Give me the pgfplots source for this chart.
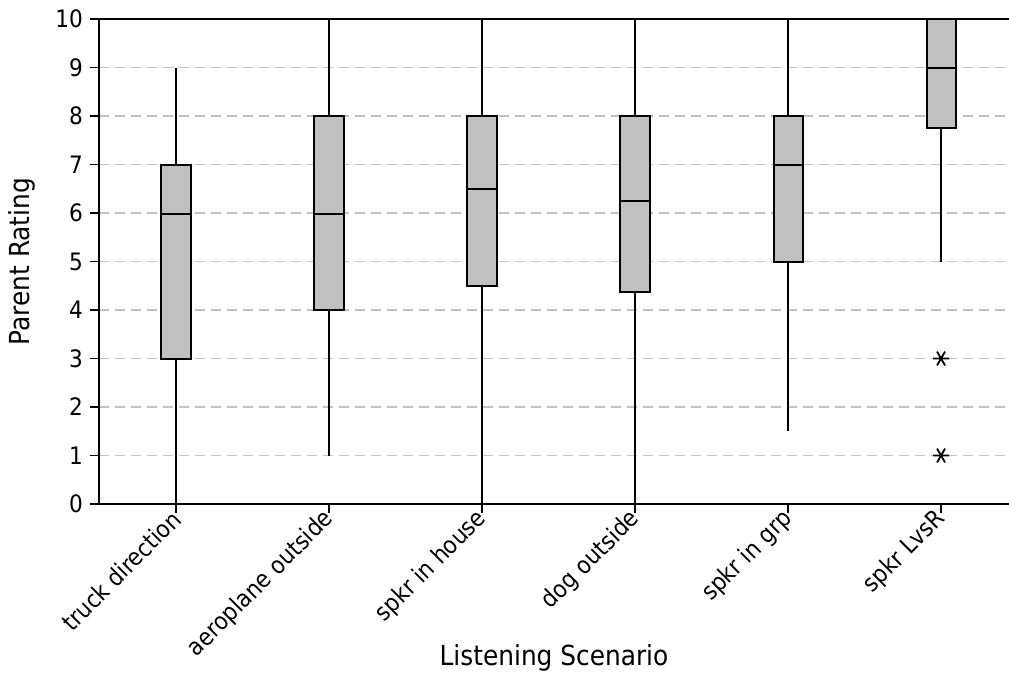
\documentclass[border=0pt]{standalone}
\usepackage{fontspec}
\setmainfont{DejaVu Sans Condensed}
\usepackage{pgfplots}
\usepgfplotslibrary{statistics}
\pgfplotsset{compat=1.18}
\definecolor{boxgray}{RGB}{192,192,192}
\definecolor{gridgray}{RGB}{195,195,195}
\begin{document}
\begin{tikzpicture}
\begin{axis}[
  scale only axis, width=455pt, height=242.5pt,
  xmin=-0.503, xmax=5.444, ymin=0, ymax=10,
  axis x line=box, axis y line=left,
  y axis line style={-},
  axis line style={line width=1pt},
  xtick={0,1,2,3,4,5},
  xticklabels={truck direction, aeroplane outside, spkr in house, dog outside, spkr in grp, spkr LvsR},
  xticklabel style={rotate=45, anchor=east, xshift=3pt, yshift=-1pt},
  ytick={0,1,...,10},
  xtick pos=bottom, ytick pos=left,
  tick align=outside, major tick length=4.5pt,
  tick style={black, line width=0.8pt},
  ymajorgrids, grid style={gridgray, dash pattern=on 5pt off 3pt, line width=0.8pt},
  /pgf/number format/assume math mode=true,
  tick label style={font=\fontsize{12}{14}\selectfont},
  ylabel={Parent Rating}, xlabel={Listening Scenario},
  every axis y label/.style={at={(axis description cs:0,0.5)}, xshift=-38.5pt, rotate=90, anchor=center, font=\fontsize{13.8}{16}\selectfont},
  every axis x label/.style={at={(axis description cs:0.5,0)}, yshift=-77pt, anchor=center, font=\fontsize{13.8}{16}\selectfont},
  boxplot/draw direction=y,
  boxplot/box extend=0.19,
  boxplot/whisker extend=0,
  boxplot/every box/.style={line width=1pt},
  boxplot/every median/.style={line width=1pt},
  boxplot/every whisker/.style={line width=0.7pt},
]
\addplot[boxplot prepared={draw position=0, lower whisker=0, lower quartile=3, median=5.97, upper quartile=7, upper whisker=9}, draw=black, fill=boxgray] coordinates {};
\addplot[boxplot prepared={draw position=1, lower whisker=1, lower quartile=4, median=5.97, upper quartile=8, upper whisker=10}, draw=black, fill=boxgray] coordinates {};
\addplot[boxplot prepared={draw position=2, lower whisker=0, lower quartile=4.5, median=6.5, upper quartile=8, upper whisker=10}, draw=black, fill=boxgray] coordinates {};
\addplot[boxplot prepared={draw position=3, lower whisker=0, lower quartile=4.375, median=6.25, upper quartile=8, upper whisker=10}, draw=black, fill=boxgray] coordinates {};
\addplot[boxplot prepared={draw position=4, lower whisker=1.5, lower quartile=5, median=7, upper quartile=8, upper whisker=10}, draw=black, fill=boxgray] coordinates {};
\addplot[boxplot prepared={draw position=5, lower whisker=5, lower quartile=7.75, median=9, upper quartile=10, upper whisker=10}, draw=black, fill=boxgray, mark=asterisk, mark size=4pt, mark options={black, line width=0.9pt, fill=none, rotate=90}] table[row sep=\\, y index=0] {3\\ 1\\};
\end{axis}
\pgfresetboundingbox
\path (-49.5pt,-86.5pt) rectangle (455pt,252pt);
\end{tikzpicture}
\end{document}
